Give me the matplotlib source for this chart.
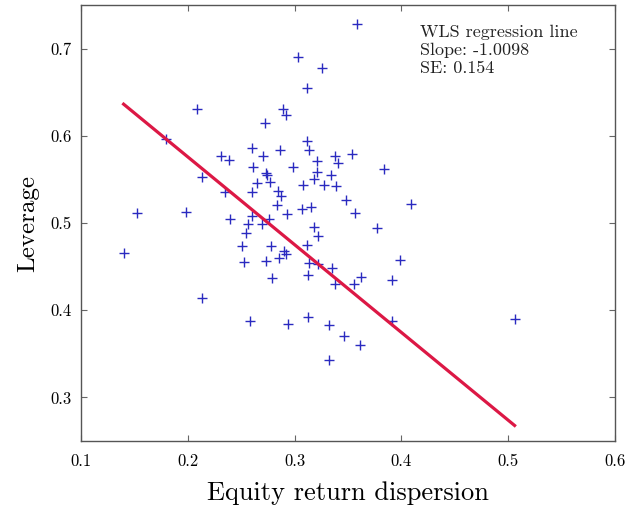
import matplotlib
matplotlib.use('Agg')
import matplotlib.pyplot as plt

plt.rcParams['font.family'] = 'serif'
plt.rcParams['font.serif'] = ['cmr10', 'DejaVu Serif']
plt.rcParams['mathtext.fontset'] = 'cm'
plt.rcParams['axes.formatter.use_mathtext'] = True

# Scatter data (equity return dispersion vs leverage)
dispersion = [0.3581, 0.3035, 0.3253, 0.3119, 0.2089, 0.2894, 0.2916, 0.2723,
              0.1792, 0.3119, 0.2601, 0.2860, 0.3135, 0.2311, 0.2707, 0.2386,
              0.3375, 0.3406, 0.3206, 0.2613, 0.2988, 0.2136, 0.2728, 0.2744,
              0.3206, 0.3341, 0.3178, 0.2644, 0.2766, 0.3081, 0.3278, 0.3384,
              0.2345, 0.2601, 0.2845, 0.2873, 0.3478, 0.2838, 0.1527, 0.1983,
              0.2925, 0.3072, 0.3156, 0.2601, 0.2398, 0.2763, 0.2564, 0.2691,
              0.3182, 0.3537, 0.3840, 0.4090, 0.3566, 0.3768, 0.3222, 0.2548,
              0.2504, 0.2779, 0.3112, 0.2901, 0.2922, 0.2850, 0.2732, 0.2529,
              0.3131, 0.3222, 0.3350, 0.3125, 0.2788, 0.3378, 0.1399, 0.2129,
              0.2579, 0.2941, 0.3125, 0.3325, 0.3465, 0.3318, 0.3559, 0.3625,
              0.3908, 0.3990, 0.3612, 0.3908, 0.5060]
leverage = [0.7283, 0.6908, 0.6779, 0.6546, 0.6306, 0.6306, 0.6237, 0.6152,
            0.5969, 0.5946, 0.5859, 0.5836, 0.5832, 0.5763, 0.5771, 0.5717,
            0.5771, 0.5691, 0.5710, 0.5645, 0.5641, 0.5530, 0.5573, 0.5545,
            0.5584, 0.5550, 0.5499, 0.5458, 0.5465, 0.5431, 0.5431, 0.5427,
            0.5351, 0.5355, 0.5370, 0.5313, 0.5267, 0.5210, 0.5110, 0.5122,
            0.5103, 0.5164, 0.5187, 0.5084, 0.5046, 0.5049, 0.4989, 0.4989,
            0.4950, 0.5790, 0.5619, 0.5221, 0.5118, 0.4943, 0.4855, 0.4886,
            0.4740, 0.4732, 0.4748, 0.4683, 0.4641, 0.4595, 0.4569, 0.4557,
            0.4542, 0.4534, 0.4480, 0.4405, 0.4371, 0.4306, 0.4660, 0.4144,
            0.3873, 0.3847, 0.3923, 0.3835, 0.3709, 0.3431, 0.4305, 0.4381,
            0.4342, 0.4572, 0.3606, 0.3877, 0.3904]

# WLS fit line endpoints
fit_x = [0.1399, 0.5060]
fit_y = [0.6363, 0.2678]

x_ticks = [0.1, 0.2, 0.3, 0.4, 0.5, 0.6]
y_ticks = [0.3, 0.4, 0.5, 0.6, 0.7]

fig = plt.figure(figsize=(6.26, 5.07), dpi=100)
ax = fig.add_axes([0.1294, 0.1302, 0.853, 0.8599])

ax.plot(dispersion, leverage, linestyle='none', marker='+', markersize=7,
        markeredgewidth=1.0, color='#2a2ac0')
ax.plot(fit_x, fit_y, color='#dc1845', linewidth=2.3)

ax.set_xlim(0.1, 0.6)
ax.set_ylim(0.25, 0.75)
ax.set_xticks(x_ticks)
ax.set_yticks(y_ticks)
ax.set_xticklabels([f'{t:.1f}' for t in x_ticks])
ax.set_yticklabels([f'{t:.1f}' for t in y_ticks])
ax.tick_params(direction='in', top=True, right=True, length=4, width=0.8,
               color='#666666', labelsize=12)
ax.tick_params(axis='x', pad=9)
ax.tick_params(axis='y', pad=7)
for s in ax.spines.values():
    s.set_color('#555555')
    s.set_linewidth(1.0)

ax.set_xlabel('Equity return dispersion', fontsize=19, labelpad=9)
ax.set_ylabel('Leverage', fontsize=18, labelpad=8)

ax.text(0.635, 0.955, 'WLS regression line\nSlope: -1.0098\nSE: 0.154',
        transform=ax.transAxes, va='top', ha='left', fontsize=13,
        linespacing=1.2, color='#222222')

fig.savefig('out.png', dpi=100)
